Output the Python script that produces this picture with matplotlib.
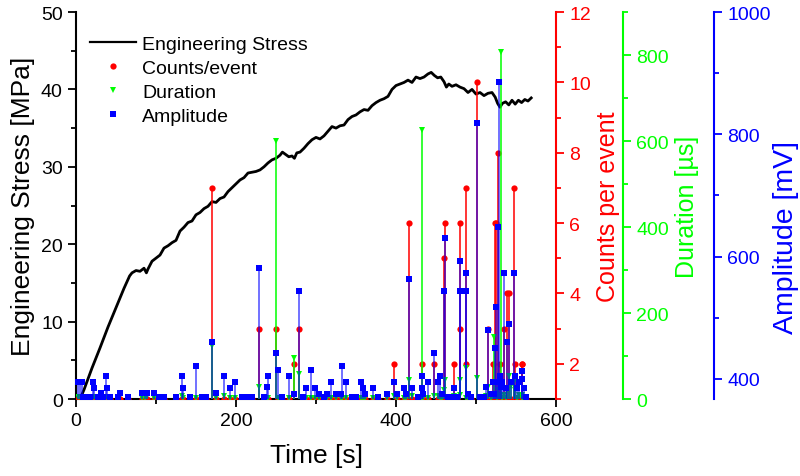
import matplotlib
matplotlib.use("Agg")
import matplotlib.pyplot as plt
from matplotlib.lines import Line2D
from matplotlib.ticker import MultipleLocator
import numpy as np

plt.rcParams['font.family'] = ['Liberation Sans', 'DejaVu Sans']

# ---- Engineering stress curve ----
stress_t = [5, 10, 20, 30, 40, 50, 60, 67, 70, 75, 80, 85, 88, 90, 95, 100, 105, 110, 115, 120,
            125, 130, 135, 140, 145, 150, 155, 160, 165, 170, 175, 180, 185, 190, 195, 200, 205,
            210, 215, 220, 225, 230, 235, 240, 245, 250, 255, 258, 262, 266, 270, 273, 276, 280,
            285, 290, 295, 300, 305, 310, 315, 320, 325, 330, 335, 340, 345, 350, 355, 360, 365,
            370, 375, 380, 385, 390, 395, 400, 405, 410, 415, 420, 425, 430, 435, 440, 444, 448,
            452, 456, 460, 463, 466, 470, 475, 480, 485, 490, 495, 500, 505, 510, 515, 520, 524,
            527, 530, 533, 537, 541, 545, 549, 553, 557, 561, 565, 569]
stress_v = [0.0, 1.2, 4.0, 6.6, 9.3, 11.8, 14.3, 15.9, 16.3, 16.6, 16.5, 16.9, 16.3, 16.8, 17.8,
            18.2, 18.6, 19.5, 19.8, 20.2, 20.5, 21.7, 22.2, 22.8, 23.0, 23.8, 24.1, 24.6, 24.9,
            25.5, 25.4, 25.9, 26.1, 26.8, 27.3, 27.8, 28.3, 28.6, 29.2, 29.3, 29.4, 29.6, 30.0,
            30.5, 30.9, 31.1, 31.5, 31.9, 31.6, 31.3, 31.4, 31.1, 31.8, 31.9, 32.4, 33.0, 33.5,
            33.8, 33.6, 34.0, 34.6, 35.2, 35.0, 35.3, 35.4, 36.1, 36.5, 36.7, 37.1, 37.4, 37.3,
            37.9, 38.3, 38.6, 38.8, 39.1, 40.0, 40.5, 40.7, 40.9, 41.2, 40.9, 41.6, 41.4, 41.6,
            42.0, 42.2, 41.8, 41.5, 41.6, 41.0, 40.3, 40.7, 40.4, 40.6, 40.3, 40.1, 39.6, 40.0,
            39.4, 39.6, 39.2, 39.5, 39.6, 39.0, 38.2, 37.7, 38.2, 38.4, 38.0, 38.6, 38.1, 38.6,
            38.3, 38.7, 38.5, 38.9]

# ---- Acoustic emission events ----
ev_time = [3, 5, 7, 9, 13, 17, 21, 22.5, 27, 31, 34, 37.5, 38.5, 43, 52, 55.5, 65, 83, 86, 89,
           98, 104, 110, 125, 132.5, 134, 142, 150, 157, 163, 169.6, 175, 185, 193, 199, 207,
           213, 220, 229, 235, 239, 240.5, 250, 252, 258, 266, 272.5, 278.75, 284, 288, 294,
           299, 304, 310, 314, 319, 325, 331, 332, 337, 345, 350, 356, 359, 361, 371, 378, 389,
           398, 401, 410.5, 413, 416.7, 419.5, 428, 432, 433, 434, 439.5, 447.5, 453, 455, 458,
           460.4, 461.5, 465, 470, 473, 476, 480, 480.5, 487.5, 488, 490.5, 494, 501.7, 505,
           510, 513, 515.4, 519, 521.5, 522.5, 523.75, 525, 526, 528, 528.75, 530, 531.25, 533,
           535, 537, 538.5, 541.7, 544, 547.5, 548.5, 551, 554, 557, 558, 560, 563]
ev_counts = [1, 1, 1, 1, 1, 1, 1, 1, 1, 1, 1, 1, 1, 1, 1, 1, 1, 1, 1, 1,
             1, 1, 1, 1, 1, 1, 1, 1, 1, 1, 7, 1, 1, 1, 1, 1,
             1, 1, 3, 1, 1, 1, 3, 1, 1, 1, 2, 3, 1, 1, 1,
             1, 1, 1, 1, 1, 1, 1, 1, 1, 1, 1, 1, 1, 1, 1, 1, 1,
             2, 1, 1, 1, 6, 1, 1, 1, 2, 1, 1, 2, 1, 1, 1,
             5, 6, 1, 1, 2, 1, 6, 3, 7, 2, 1, 1, 10, 1,
             1, 1, 3, 1, 2, 1, 6, 6, 1, 8, 1, 2, 1, 1,
             3, 1, 4, 4, 1, 7, 2, 1, 1, 2, 2, 1, 1]
ev_duration = [5, 5, 3, 3, 3, 3, 5, 5, 3, 8, 3, 5, 5, 3, 3, 8, 3, 3, 3, 8,
               3, 3, 3, 3, 8, 3, 3, 3, 3, 3, 123, 3, 8, 3, 3, 3,
               3, 3, 29, 3, 3, 3, 600, 3, 3, 3, 96, 59, 3, 3, 3,
               3, 3, 3, 3, 3, 3, 3, 3, 3, 3, 3, 3, 3, 3, 3, 3, 3,
               8, 3, 3, 3, 44, 8, 3, 3, 625, 3, 3, 8, 8, 3, 3,
               20, 44, 3, 3, 8, 3, 44, 10, 71, 3, 3, 3, 50, 3,
               3, 8, 28, 3, 10, 145, 10, 10, 3, 20, 10, 10, 808, 3,
               10, 3, 20, 54, 30, 40, 20, 3, 10, 10, 3, 3, 3]
ev_amplitude = [395, 395, 395, 370, 370, 370, 395, 385, 370, 377, 370, 405, 385, 370, 370, 377,
                370, 377, 377, 377, 377, 370, 370, 370, 405, 385, 370, 421, 370, 370, 460, 377,
                405, 385, 395, 370, 370, 370, 582, 370, 386, 405, 442, 414, 370, 405, 376, 544,
                370, 385, 414, 385, 376, 370, 376, 395, 376, 376, 421, 395, 370, 370, 395, 385,
                376, 385, 370, 376, 395, 376, 385, 376, 563, 385, 370, 385, 405, 376, 395, 442,
                395, 405, 376, 544, 630, 370, 370, 385, 370, 592, 544, 573, 544, 376, 370, 818,
                370, 370, 386, 480, 376, 395, 376, 450, 517, 395, 649, 886, 405, 386, 395, 573,
                385, 461, 490, 395, 573, 405, 385, 395, 413, 400, 385, 370]

RED = '#ff0000'
GREEN = '#00ff00'
BLUE = '#0000ff'

fig = plt.figure(figsize=(8, 4.77), dpi=100)
ax = fig.add_axes([0.095, 0.1614, 0.6, 0.8113])

ax.plot(stress_t, stress_v, color='black', lw=2.0, zorder=5)
ax.set_xlim(0, 600)
ax.set_ylim(0, 50)
ax.xaxis.set_major_locator(MultipleLocator(200))
ax.xaxis.set_minor_locator(MultipleLocator(100))
ax.yaxis.set_major_locator(MultipleLocator(10))
ax.yaxis.set_minor_locator(MultipleLocator(5))
ax.spines['top'].set_visible(False)
ax.spines['right'].set_visible(False)
for s in ['left', 'bottom']:
    ax.spines[s].set_linewidth(1.5)
ax.tick_params(which='major', direction='out', length=6, width=1.3, labelsize=14)
ax.tick_params(which='minor', direction='out', length=3.5, width=1.3)
ax.set_xlabel('Time [s]', fontsize=19, labelpad=10)
ax.set_ylabel('Engineering Stress [MPa]', fontsize=19, labelpad=4)


def make_twin(pos, color, ylim, major, minor, label, lfs, lpad):
    t = ax.twinx()
    t.set_ylim(*ylim)
    for s in ['left', 'top', 'bottom']:
        t.spines[s].set_visible(False)
    t.spines['right'].set_color(color)
    t.spines['right'].set_linewidth(1.5)
    if pos is not None:
        t.spines['right'].set_position(('axes', pos))
    t.yaxis.set_major_locator(MultipleLocator(major))
    t.yaxis.set_minor_locator(MultipleLocator(minor))
    t.tick_params(axis='y', which='major', direction='out', length=6, width=1.3,
                  colors=color, labelsize=14)
    t.tick_params(axis='y', which='minor', direction='out', length=3.5, width=1.3,
                  colors=color)
    t.set_ylabel(label, color=color, fontsize=lfs, labelpad=lpad)
    t.patch.set_visible(False)
    return t


ax_c = make_twin(None, RED, (1, 12), 2, 1, 'Counts per event', 18, 4)
ax_d = make_twin(1.1396, GREEN, (0, 900), 200, 100, 'Duration [µs]', 18, 4)
ax_a = make_twin(1.329, BLUE, (367, 1000), 200, 100, 'Amplitude [mV]', 20.5, 1)
ax_a.yaxis.set_label_coords(1.452, 0.42)

t_arr = np.array(ev_time)
ax_c.vlines(t_arr, 1, ev_counts, color=RED, lw=1.3, alpha=0.85)
ax_c.plot(t_arr, ev_counts, 'o', color=RED, ms=4.5, mew=0, clip_on=True)
ax_d.vlines(t_arr, 0, ev_duration, color=GREEN, lw=1.3, alpha=0.85)
ax_d.plot(t_arr, ev_duration, 'v', color=GREEN, ms=5, mew=0, clip_on=True)
ax_a.vlines(t_arr, 367, ev_amplitude, color=BLUE, lw=1.3, alpha=0.6)
ax_a.plot(t_arr, ev_amplitude, 's', color=BLUE, ms=4.2, mew=0, clip_on=False)

handles = [Line2D([], [], color='black', lw=1.6),
           Line2D([], [], color=RED, marker='o', ls='none', ms=4.5, mew=0),
           Line2D([], [], color=GREEN, marker='v', ls='none', ms=5, mew=0),
           Line2D([], [], color=BLUE, marker='s', ls='none', ms=4.2, mew=0)]
labels = ['Engineering Stress', 'Counts/event', 'Duration', 'Amplitude']
ax_a.legend(handles, labels, loc='upper left', bbox_to_anchor=(0.0, 0.975),
            frameon=False, fontsize=14, handlelength=2.4, handletextpad=0.3,
            labelspacing=0.33, borderaxespad=0.3)

fig.savefig('out.png', dpi=100)
